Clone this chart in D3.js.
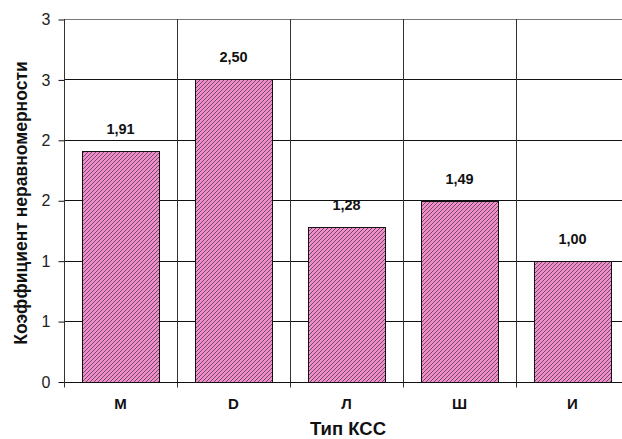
<!DOCTYPE html>
<html><head><meta charset="utf-8">
<script src="https://cdn.jsdelivr.net/npm/d3@7"></script>
<style>body{margin:0;background:#fff;overflow:hidden}svg{display:block;font-family:"Liberation Sans",Arial,sans-serif}</style>
</head><body><svg id="c" width="622" height="439"></svg>
<script>
const categories = ["M","D","Л","Ш","И"];
const values = [1.91,2.50,1.28,1.49,1.00];
const valueLabels = ["1,91","2,50","1,28","1,49","1,00"];
const yTicks = [0,0.5,1,1.5,2,2.5,3];
const yTickLabels = ["0","1","1","2","2","3","3"];

const svg = d3.select("#c");
const L = 64, R = 629, T = 19, B = 381.5;
const x = d3.scaleBand().domain(categories).range([L,R]).paddingInner(0.32).paddingOuter(0.16);
const xb = d3.scaleBand().domain(categories).range([L,R]);
const y = d3.scaleLinear().domain([0,3]).range([B,T]);
const FF = "Liberation Sans, Arial, sans-serif";

const defs = svg.append("defs");
const pat = defs.append("pattern").attr("id","hatch").attr("patternUnits","userSpaceOnUse").attr("width",4).attr("height",4);
pat.append("rect").attr("width",4).attr("height",4).attr("fill","#f28ccb");
pat.append("path").attr("d","M-1,1 l2,-2 M0,4 l4,-4 M3,5 l2,-2").attr("stroke","#5a4653").attr("stroke-width",0.9);

// horizontal grid
svg.append("g").selectAll("line").data(yTicks).join("line")
  .attr("x1",L).attr("x2",R).attr("y1",d=>Math.round(y(d))+0.5).attr("y2",d=>Math.round(y(d))+0.5)
  .attr("stroke",(d,i)=>i===yTicks.length-1?"#777":"#111").attr("stroke-width",1);
// vertical grid at category boundaries
svg.append("g").selectAll("line").data(categories.slice(1)).join("line")
  .attr("x1",d=>Math.round(xb(d))+0.5).attr("x2",d=>Math.round(xb(d))+0.5)
  .attr("y1",T).attr("y2",B+6).attr("stroke","#333");

// bars
svg.append("g").selectAll("rect").data(values).join("rect")
  .attr("x",(d,i)=>Math.round(x(categories[i]))+0.5)
  .attr("width",Math.round(x.bandwidth()))
  .attr("y",d=>Math.round(y(d))+0.5)
  .attr("height",d=>Math.round(y(0))-Math.round(y(d)))
  .attr("fill","url(#hatch)").attr("stroke","#111").attr("stroke-width",1);

// value labels
svg.append("g").selectAll("text").data(values).join("text")
  .attr("x",(d,i)=>x(categories[i])+x.bandwidth()/2)
  .attr("y",d=>y(d)-17)
  .attr("text-anchor","middle").attr("font-size",14.5).attr("font-weight","bold").attr("fill","#111")
  .text((d,i)=>valueLabels[i]);

// y axis
const yAxis = d3.axisLeft(y).tickValues(yTicks).tickFormat((d,i)=>yTickLabels[i]).tickSize(6).tickPadding(8);
const gy = svg.append("g").attr("transform",`translate(${L+0.5},0.5)`).call(yAxis);
gy.select(".domain").attr("stroke","#333").attr("d",`M0,${T-0.5}V${B}`);
gy.selectAll(".tick line").attr("stroke","#111");
gy.selectAll("text").attr("font-size",16).attr("fill","#222").attr("font-family",FF);

// x axis
const xAxis = d3.axisBottom(xb).tickSize(0).tickPadding(16);
const gx = svg.append("g").attr("transform",`translate(0,${Math.round(B)+0.5})`).call(xAxis);
gx.select(".domain").attr("stroke","#111").attr("d",`M${L},0H${R}`);
gx.selectAll("text").attr("font-size",15).attr("font-weight","bold").attr("fill","#111").attr("font-family",FF);
svg.append("line").attr("x1",L+0.5).attr("x2",L+0.5).attr("y1",B).attr("y2",B+6).attr("stroke","#333");

// titles
svg.append("text").attr("transform",`translate(27,203) rotate(-90)`)
  .attr("text-anchor","middle").attr("font-size",17.5).attr("font-weight","bold").attr("fill","#111")
  .text("Коэффициент неравномерности");
svg.append("text").attr("x",348).attr("y",435)
  .attr("text-anchor","middle").attr("font-size",18.5).attr("font-weight","bold").attr("fill","#111")
  .text("Тип КСС");
</script></body></html>
